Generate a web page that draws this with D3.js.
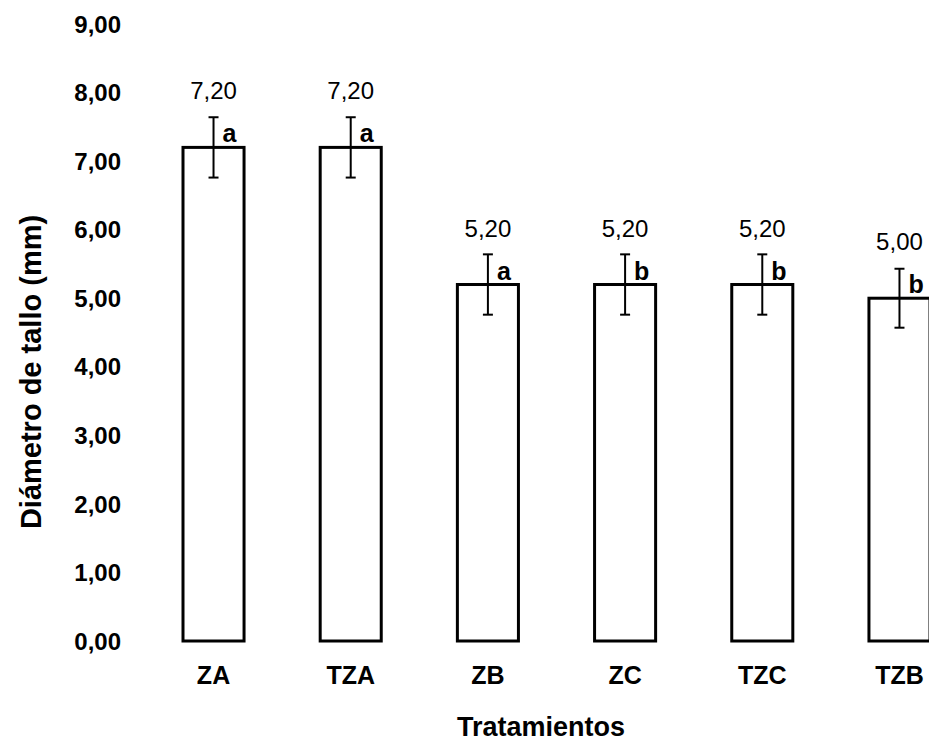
<!DOCTYPE html>
<html>
<head>
<meta charset="utf-8">
<script src="https://cdn.jsdelivr.net/npm/d3@7"></script>
<style>
  body { margin: 0; background: #fff; }
  text { font-family: "Liberation Sans", Arial, sans-serif; }
</style>
</head>
<body>
<svg id="chart"></svg>
<script>
// data
var categories = ["ZA", "TZA", "ZB", "ZC", "TZC", "TZB"];
var values = [7.20, 7.20, 5.20, 5.20, 5.20, 5.00];
var errors = [0.44, 0.44, 0.44, 0.44, 0.44, 0.43];
var letters = ["a", "a", "a", "b", "b", "b"];
var yTicks = [0, 1, 2, 3, 4, 5, 6, 7, 8, 9];

var W = 929, H = 745;
var svg = d3.select("#chart")
            .attr("width", W)
            .attr("height", H);

var x = d3.scaleBand()
          .domain(categories)
          .range([183, 930])
          .paddingInner(0.555)
          .paddingOuter(0);

var y = d3.scaleLinear()
          .domain([0, 9])
          .range([641, 24]);

var fmt = function(v){ return d3.format(".2f")(v).replace(".", ","); };

// y tick labels (no axis line in the original)
svg.append("g")
    .selectAll("text")
    .data(yTicks)
    .enter()
    .append("text")
    .attr("x", 121)
    .attr("y", function(d){ return y(d); })
    .attr("dy", "0.36em")
    .attr("text-anchor", "end")
    .style("font-size", "24px")
    .style("font-weight", "bold")
    .text(function(d){ return fmt(d); });

var data = categories.map(function(c, i){
    return {cat: c, v: values[i], e: errors[i], l: letters[i]};
});

// bars
svg.append("g")
    .selectAll("rect")
    .data(data)
    .enter()
    .append("rect")
    .attr("x", function(d){ return x(d.cat); })
    .attr("y", function(d){ return y(d.v); })
    .attr("width", x.bandwidth())
    .attr("height", function(d){ return y(0) - y(d.v); })
    .attr("fill", "#fff")
    .attr("stroke", "#000")
    .attr("stroke-width", 3);

// error bars
var eb = svg.append("g")
    .selectAll("g")
    .data(data)
    .enter()
    .append("g")
    .attr("stroke", "#000")
    .attr("stroke-width", 2);

eb.append("line")
    .attr("x1", function(d){ return x(d.cat) + x.bandwidth()/2; })
    .attr("x2", function(d){ return x(d.cat) + x.bandwidth()/2; })
    .attr("y1", function(d){ return y(d.v + d.e); })
    .attr("y2", function(d){ return y(d.v - d.e); });

eb.append("line")
    .attr("x1", function(d){ return x(d.cat) + x.bandwidth()/2 - 5; })
    .attr("x2", function(d){ return x(d.cat) + x.bandwidth()/2 + 5; })
    .attr("y1", function(d){ return y(d.v + d.e); })
    .attr("y2", function(d){ return y(d.v + d.e); });

eb.append("line")
    .attr("x1", function(d){ return x(d.cat) + x.bandwidth()/2 - 5; })
    .attr("x2", function(d){ return x(d.cat) + x.bandwidth()/2 + 5; })
    .attr("y1", function(d){ return y(d.v - d.e); })
    .attr("y2", function(d){ return y(d.v - d.e); });

// value labels
svg.append("g")
    .selectAll("text")
    .data(data)
    .enter()
    .append("text")
    .attr("x", function(d){ return x(d.cat) + x.bandwidth()/2; })
    .attr("y", function(d){ return y(d.v) - 48; })
    .attr("text-anchor", "middle")
    .style("font-size", "24px")
    .text(function(d){ return fmt(d.v); });

// significance letters
svg.append("g")
    .selectAll("text")
    .data(data)
    .enter()
    .append("text")
    .attr("x", function(d){ return x(d.cat) + x.bandwidth()/2 + 9; })
    .attr("y", function(d){ return y(d.v) - 5; })
    .style("font-size", "25px")
    .style("font-weight", "bold")
    .text(function(d){ return d.l; });

// category labels
svg.append("g")
    .selectAll("text")
    .data(categories)
    .enter()
    .append("text")
    .attr("x", function(d){ return x(d) + x.bandwidth()/2; })
    .attr("y", 684)
    .attr("text-anchor", "middle")
    .style("font-size", "25px")
    .style("font-weight", "bold")
    .text(function(d){ return d; });

// axis titles
svg.append("text")
    .attr("x", 541)
    .attr("y", 736)
    .attr("text-anchor", "middle")
    .style("font-size", "27px")
    .style("font-weight", "bold")
    .text("Tratamientos");

svg.append("text")
    .attr("transform", "translate(41,372) rotate(-90)")
    .attr("text-anchor", "middle")
    .style("font-size", "29px")
    .style("font-weight", "bold")
    .text("Diámetro de tallo (mm)");
</script>
</body>
</html>
